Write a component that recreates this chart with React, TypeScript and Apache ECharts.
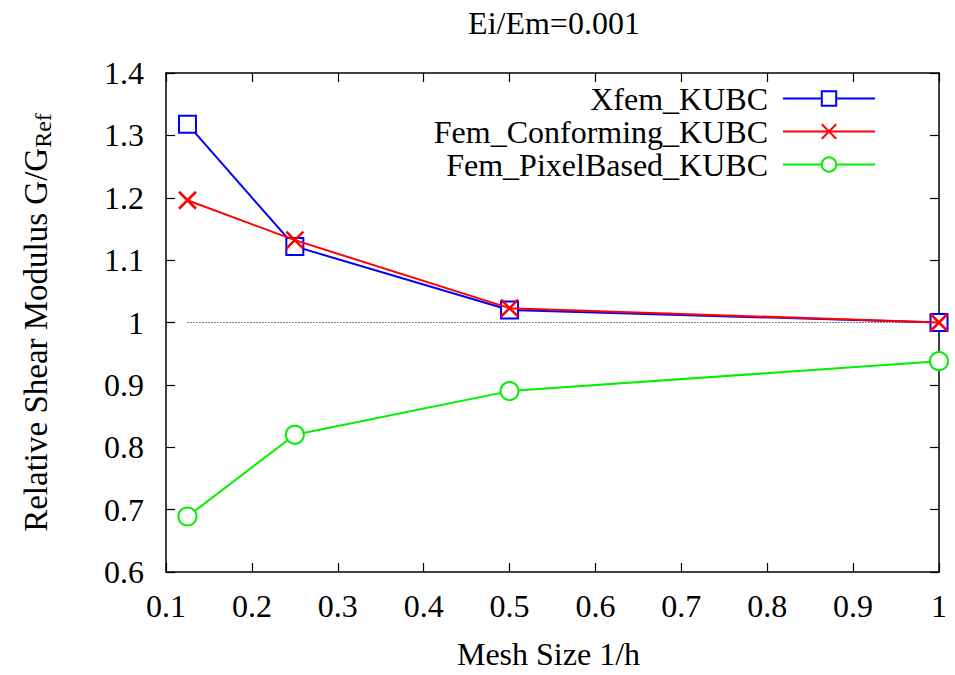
import React, { useEffect, useRef } from "react";
import * as echarts from "echarts";

const meshSize = [0.125, 0.25, 0.5, 1.0];
const xfemKubc = [1.318, 1.122, 1.02, 1.0];
const femConformingKubc = [1.196, 1.132, 1.023, 1.0];
const femPixelKubc = [0.689, 0.82, 0.89, 0.938];
const refLine = [1.0, 1.0];
const refX = [0.125, 1.0];

const FONT = "'Liberation Serif', 'Times New Roman', serif";
const FS = 32;

function pairs(xs: number[], ys: number[]) {
  return xs.map((x, i) => [x, ys[i]]);
}

export default function App() {
  const ref = useRef<HTMLDivElement>(null);
  useEffect(() => {
    if (!ref.current) return;
    const chart = echarts.init(ref.current, null, { renderer: "svg" });
    const fmt = (v: number) => String(+v.toFixed(1));
    const axisLine = { show: true, lineStyle: { color: "#000", width: 1.5 } };
    const tick = { show: true, inside: true, length: 9, lineStyle: { color: "#000", width: 1.2 } };
    const crossPath = "path://M0,0L10,10M10,0L0,10";
    chart.setOption({
      animation: false,
      backgroundColor: "#fff",
      textStyle: { fontFamily: FONT },
      title: {
        text: "Ei/Em=0.001",
        left: 549,
        top: 1,
        textAlign: "center",
        textStyle: { fontFamily: FONT, fontSize: FS, fontWeight: "normal", color: "#000", lineHeight: 34 },
      },
      legend: {
        orient: "vertical",
        right: 74,
        top: 77,
        align: "right",
        itemWidth: 92,
        itemHeight: 18,
        itemGap: 0,
        data: ["Xfem_KUBC", "Fem_Conforming_KUBC", "Fem_PixelBased_KUBC"],
        textStyle: { fontFamily: FONT, fontSize: FS, lineHeight: 33, color: "#000", padding: [0, 10, 0, 0] },
      },
      grid: { left: 166, right: 16, top: 73, bottom: 103, containLabel: false, outerBoundsMode: "none" },
      xAxis: [
        {
          type: "value",
          min: 0.1,
          max: 1,
          interval: 0.1,
          name: "Mesh Size 1/h",
          nameLocation: "middle",
          nameGap: 65,
          nameTextStyle: { fontFamily: FONT, fontSize: FS, color: "#000", lineHeight: 34, padding: [0, 8, 0, 0] },
          axisLine,
          axisTick: tick,
          splitLine: { show: false },
          axisLabel: { fontFamily: FONT, fontSize: FS, color: "#000", margin: 17, lineHeight: 34, formatter: fmt },
        },
        {
          type: "value",
          position: "top",
          min: 0.1,
          max: 1,
          interval: 0.1,
          axisLine,
          axisTick: tick,
          splitLine: { show: false },
          axisLabel: { show: false },
        },
      ],
      yAxis: [
        {
          type: "value",
          min: 0.6,
          max: 1.4,
          interval: 0.1,
          name: "{n|Relative Shear Modulus G/G}{s|Ref}",
          nameLocation: "middle",
          nameRotate: 90,
          nameGap: 111,
          nameTextStyle: {
            fontFamily: FONT,
            color: "#000",
            rich: {
              n: { fontFamily: FONT, fontSize: 33, color: "#000", lineHeight: 36, verticalAlign: "top" },
              s: { fontFamily: FONT, fontSize: 24, color: "#000", lineHeight: 36, verticalAlign: "bottom", padding: [11, 0, 0, 0] },
            },
          },
          axisLine,
          axisTick: tick,
          splitLine: { show: false },
          axisLabel: { fontFamily: FONT, fontSize: FS, color: "#000", margin: 22, formatter: fmt },
        },
        {
          type: "value",
          position: "right",
          min: 0.6,
          max: 1.4,
          interval: 0.1,
          axisLine,
          axisTick: tick,
          splitLine: { show: false },
          axisLabel: { show: false },
        },
      ],
      series: [
        {
          name: "ref",
          type: "line",
          data: pairs(refX, refLine),
          symbol: "none",
          lineStyle: { color: "#000", width: 1, type: [1, 2] },
          silent: true,
          z: 1,
        },
        {
          name: "Xfem_KUBC",
          type: "line",
          data: pairs(meshSize, xfemKubc),
          symbol: "emptyRect",
          symbolSize: 17,
          lineStyle: { color: "#0000ff", width: 2 },
          itemStyle: { color: "#0000ff", borderColor: "#0000ff", borderWidth: 2 },
          z: 2,
        },
        {
          name: "Fem_Conforming_KUBC",
          type: "line",
          data: pairs(meshSize, femConformingKubc),
          symbol: crossPath,
          symbolSize: 17,
          lineStyle: { color: "#ff0000", width: 2 },
          itemStyle: { color: "#ff0000", borderColor: "#ff0000", borderWidth: 2.5 },
          z: 3,
        },
        {
          name: "Fem_PixelBased_KUBC",
          type: "line",
          data: pairs(meshSize, femPixelKubc),
          symbol: "emptyCircle",
          symbolSize: 18,
          lineStyle: { color: "#00f000", width: 2 },
          itemStyle: { color: "#00f000", borderColor: "#00f000", borderWidth: 2 },
          z: 4,
        },
      ],
    });
    return () => chart.dispose();
  }, []);
  return <div ref={ref} style={{ width: 955, height: 675, position: "absolute", left: 0, top: 0 }} />;
}
